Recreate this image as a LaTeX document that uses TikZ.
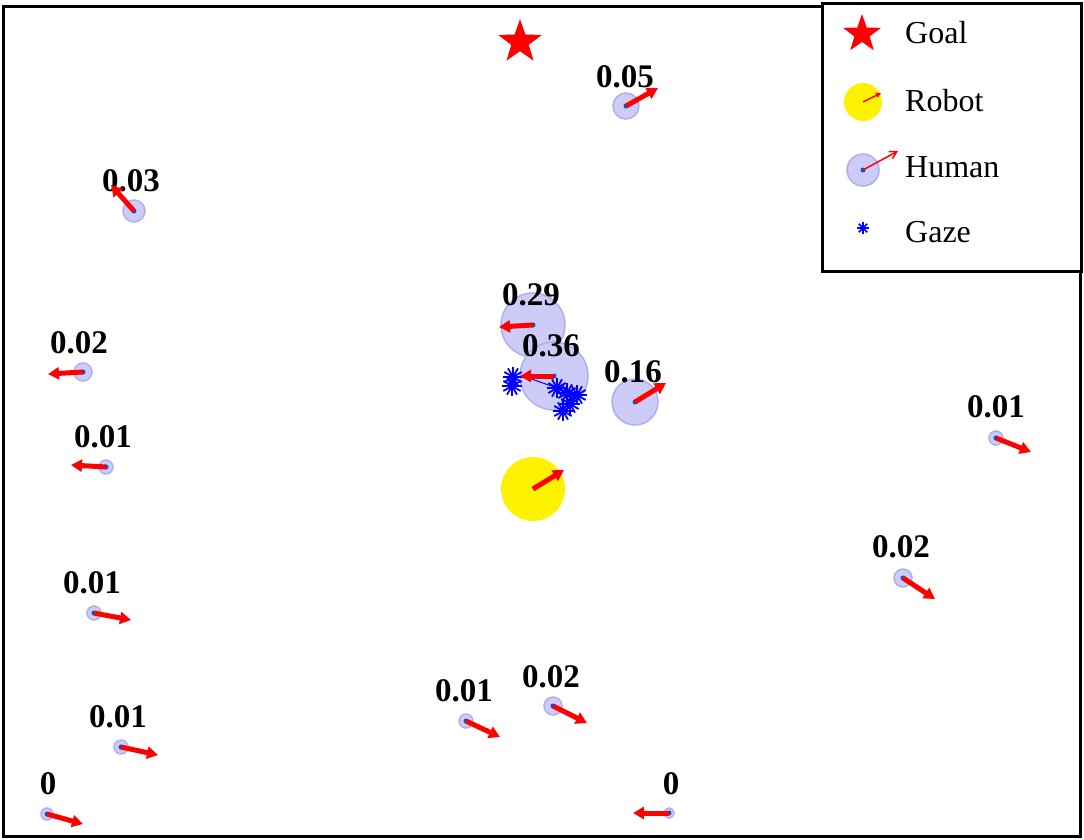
\documentclass[tikz,border=0pt]{standalone}
\usepackage{fontspec}
\setmainfont{Liberation Serif}
\usetikzlibrary{shapes.geometric,arrows.meta}
\definecolor{hfill}{RGB}{204,204,247}
\definecolor{hedge}{RGB}{175,175,240}
\definecolor{hdot}{RGB}{0,90,210}
\definecolor{arr}{RGB}{255,0,0}
\definecolor{gz}{RGB}{0,0,255}
\tikzset{
  human/.style={circle, fill=hfill, draw=hedge, line width=1.5pt, inner sep=0pt},
  hdotst/.style={circle, fill=hdot, inner sep=0pt, minimum size=5pt},
  motion/.style={draw=arr, line width=5pt, -{Triangle[length=11pt,width=12pt]}},
  prob/.style={font=\bfseries\fontsize{33}{33}\selectfont, inner sep=0pt},
  legtext/.style={font=\fontsize{32}{32}\selectfont, anchor=west, inner sep=0pt},
  frame/.style={draw=black, line width=3pt},
  gazelink/.style={draw=gz, line width=1pt},
  pics/gaze/.style={code={
    \foreach \a in {0,30,...,150}{\draw[gz, line width=1.8pt] (\a:#1) -- (\a+180:#1);}
    \fill[gz] (0,0) circle (3.5pt);
  }}
}
\begin{document}
\begin{tikzpicture}[x=1pt,y=-1pt]
\useasboundingbox (0,0) rectangle (1084,839);
\draw[frame] (3,6) rectangle (1080,836);
% legend
\draw[frame, fill=white] (822,3) rectangle (1081,271);
\node[star, star points=5, star point ratio=2.5, fill=arr, minimum size=40pt, inner sep=0pt] (lgoal) at (862,34) {};
\node[legtext] (tgoal) at (905,33) {Goal};
\node[circle, fill=yellow, minimum size=38pt, inner sep=0pt] (lrobot) at (863,102) {};
\coordinate (lrobotend) at (881,93);
\draw[draw=arr, line width=1.5pt, -{Triangle[length=5pt,width=5pt]}] (lrobot.center) -- (lrobotend);
\node[legtext] (trobot) at (905,101) {Robot};
\node[human, minimum size=32pt] (lhuman) at (863,170) {};
\node[hdotst] (lhdot) at (lhuman.center) {};
\coordinate (lhumanend) at (898,151);
\draw[draw=arr, line width=1.5pt, -{Straight Barb[length=7pt,width=8pt]}] (lhuman.center) -- (lhumanend);
\node[legtext] (thuman) at (905,167) {Human};
\coordinate (lgaze) at (863,228);
\foreach \a in {0,45,90,135}{\draw[gz, line width=1.5pt] (lgaze) ++(\a:6) -- ++(\a+180:12);}
\node[legtext] (tgaze) at (905,232) {Gaze};
% goal
\node[star, star points=5, star point ratio=2.5, fill=arr, minimum size=46pt, inner sep=0pt] (goal) at (520,42) {};
% robot
\node[circle, fill=yellow, minimum size=64pt, inner sep=0pt] (robot) at (533,489) {};
\coordinate (robotend) at (564,470);
\draw[motion] (robot.center) -- (robotend);
% humans: id / x / y / radius / label / label x / label y
\foreach \i/\x/\y/\r/\p/\lx/\ly in {
  1/626/106/13/0.05/625/77,
  2/134/211/11/0.03/131/181,
  3/533/325/32/0.29/531/295,
  4/554/376/34/0.36/551/346,
  5/635/402/23/0.16/633/372,
  6/83/372/9/0.02/79/343,
  7/106/467/7/0.01/103/437,
  8/94/613/7/0.01/92/583,
  9/121/747/7/0.01/118/717,
  10/47/814/6/0/48/784,
  11/466/721/7/0.01/464/691,
  12/553/706/9/0.02/551/677,
  13/669/813/5/0/671/784,
  14/996/438/7/0.01/996/407,
  15/903/578/9/0.02/901/547}{
  \node[human, minimum size=2*\r pt] (h\i) at (\x,\y) {};
  \node[prob] (p\i) at (\lx,\ly) {\p};
}
% gaze points
\coordinate (g1) at (513,377);
\coordinate (g2) at (512,386);
\coordinate (g3) at (557,388);
\coordinate (g4) at (567,393);
\coordinate (g5) at (577,395);
\coordinate (g6) at (563,411);
\coordinate (g7) at (570,404);
\draw[gazelink] (h4.center) ++(-28,1) coordinate (gl) -- (g3);
\foreach \g in {g1,g2,g3,g4,g5,g6,g7}{\pic at (\g) {gaze=10};}
\foreach \i/\ex/\ey in {1/658/88,2/111/185,3/499/327,4/520/376,5/666/383,6/48/374,7/71/465,8/131/620,9/158/755,10/83/824,11/500/737,12/587/723,13/633/813,14/1031/452,15/935/599}{
  \coordinate (e\i) at (\ex,\ey);
  \node[hdotst] (d\i) at (h\i.center) {};
  \draw[motion] (h\i.center) -- (e\i);
}
\end{tikzpicture}
\end{document}
